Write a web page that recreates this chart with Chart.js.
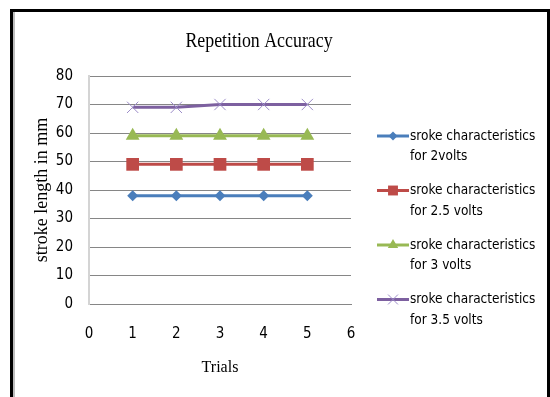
<!DOCTYPE html>
<html>
<head>
<meta charset="utf-8">
<script src="https://cdn.jsdelivr.net/npm/chart.js@4.4.1/dist/chart.umd.min.js"></script>
<style>
    html, body { margin: 0; padding: 0; background: #fff; }
    .wrap { position: relative; width: 550px; height: 397px; overflow: hidden; }
    .frame {
        position: absolute; left: 10px; top: 9px; width: 540px; height: 420px;
        box-sizing: border-box; border: 3px solid #000; pointer-events: none;
        box-shadow: inset 2px 0 0 #bdbdbd;
    }
    canvas { position: absolute; left: 0; top: 0; }
</style>
</head>
<body>
<div class="wrap">
    <canvas id="chart" width="550" height="397"></canvas>
    <div class="frame"></div>
</div>
<script>
const trials = [1, 2, 3, 4, 5];
const xTicks = [0, 1, 2, 3, 4, 5, 6];
const yTicks = [0, 10, 20, 30, 40, 50, 60, 70, 80];

const stroke2v = [38, 38, 38, 38, 38];
const stroke25v = [49, 49, 49, 49, 49];
const stroke3v = [59, 59, 59, 59, 59];
const stroke35v = [69, 69, 70, 70, 70];

const seriesLabels = [
    ['sroke characteristics', 'for 2volts'],
    ['sroke characteristics', 'for 2.5 volts'],
    ['sroke characteristics', 'for 3 volts'],
    ['sroke characteristics', 'for 3.5 volts'],
];

const SANS = '"Liberation Sans Narrow", "DejaVu Sans Condensed", "Open Sans", sans-serif';
const SERIF = '"Liberation Serif", "DejaVu Serif", serif';

const toPoints = (vals) => trials.map((t, i) => ({ x: t, y: vals[i] }));

function series(i, vals, color, style, radius, legendRadius, pointColor) {
    return {
        label: seriesLabels[i],
        data: toPoints(vals),
        borderColor: color,
        borderWidth: 3,
        pointStyle: style,
        pointRadius: radius,
        legendRadius: legendRadius,
        pointBackgroundColor: pointColor || color,
        pointBorderColor: pointColor || color,
        pointBorderWidth: style === 'crossRot' ? 1 : 0,
        tension: 0,
    };
}

// side legend: line + marker, two-line text, plus the chart title
const sideLegend = {
    id: 'sideLegend',
    afterDraw(chart) {
        const { ctx } = chart;
        ctx.save();
        ctx.font = '13.5px ' + SANS;
        ctx.textBaseline = 'middle';
        ctx.textAlign = 'left';
        chart.data.datasets.forEach((ds, i) => {
            const y = 136 + i * 54.5;
            ctx.strokeStyle = ds.borderColor;
            ctx.lineWidth = 3;
            ctx.beginPath();
            ctx.moveTo(377, y);
            ctx.lineTo(409, y);
            ctx.stroke();
            ctx.fillStyle = ds.pointBackgroundColor;
            ctx.strokeStyle = ds.pointBorderColor;
            ctx.lineWidth = 1;
            Chart.helpers.drawPoint(ctx, {
                pointStyle: ds.pointStyle,
                radius: ds.legendRadius,
                rotation: 0,
                borderWidth: ds.pointBorderWidth,
            }, 393, y);
            ctx.fillStyle = '#000';
            ds.label.forEach((line, k) => ctx.fillText(line, 410, y + k * 20.5));
        });
        // title, slightly condensed like the source picture
        ctx.font = '21px ' + SERIF;
        ctx.textAlign = 'center';
        ctx.translate(259, 41);
        ctx.scale(0.85, 1);
        ctx.fillText('Repetition Accuracy', 0, 0);
        ctx.restore();
    },
};

new Chart(document.getElementById('chart'), {
    type: 'line',
    data: {
        datasets: [
            series(0, stroke2v, '#4a7ebb', 'rectRot', 5.5, 4.5),
            series(1, stroke25v, '#be4b48', 'rect', 9, 7),
            series(2, stroke3v, '#98b954', 'triangle', 8, 6),
            series(3, stroke35v, '#7d60a0', 'crossRot', 8, 7, '#9c8cc8'),
        ],
    },
    options: {
        responsive: false,
        animation: false,
        layout: { padding: { left: 0, right: 199, top: 76, bottom: 0 } },
        plugins: { legend: { display: false }, tooltip: { enabled: false }, title: { display: false } },
        scales: {
            x: {
                type: 'linear',
                min: 0,
                max: 6,
                afterBuildTicks: (s) => { s.ticks = xTicks.map((v) => ({ value: v })); },
                afterFit: (s) => { s.height = 93; },
                grid: { display: false, drawTicks: false },
                border: { display: true, color: '#868686', width: 1 },
                ticks: { padding: 21, color: '#000', font: { family: SANS, size: 15 } },
                title: { display: true, text: 'Trials', color: '#000', font: { family: SERIF, size: 16 }, padding: { top: 0, bottom: 20 } },
            },
            y: {
                min: 0,
                max: 80,
                afterBuildTicks: (s) => { s.ticks = yTicks.map((v) => ({ value: v })); },
                afterFit: (s) => { s.width = 89; },
                grid: { color: '#868686', lineWidth: 1, drawTicks: false },
                border: { display: true, color: '#d4d4d4', width: 2 },
                ticks: { padding: 16, color: '#000', font: { family: SANS, size: 15 } },
                title: { display: true, text: 'stroke length in mm', color: '#000', font: { family: SERIF, size: 18 }, padding: { top: 31, bottom: 0 } },
            },
        },
    },
    plugins: [sideLegend],
});
</script>
</body>
</html>
